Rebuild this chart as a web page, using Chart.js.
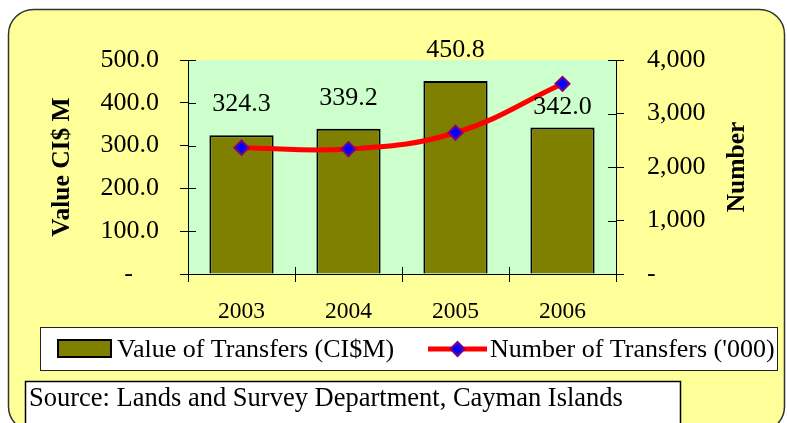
<!DOCTYPE html>
<html><head><meta charset="utf-8">
<script src="https://cdn.jsdelivr.net/npm/chart.js@4/dist/chart.umd.min.js"></script>
<style>html,body{margin:0;padding:0;background:#fff;overflow:hidden}#wrap{width:787px;height:423px;position:relative}</style>
</head><body><div id="wrap"><canvas id="c" width="787" height="423"></canvas></div>
<script>
// ---- data ----
const years = ['2003', '2004', '2005', '2006'];
const transferValues = [324.3, 339.2, 450.8, 342.0];
const transferCounts = [2360, 2335, 2640, 3555];
const valueAxisMax = 500;
const valueAxisStep = 100;
const countAxisMax = 4000;
const countAxisStep = 1000;
const seriesNames = ['Value of Transfers (CI$M)', "Number of Transfers ('000)"];
const axisTitles = ['Value CI$ M', 'Number'];
const sourceNote = 'Source: Lands and Survey Department, Cayman Islands';

// ---- style ----
const FONT = '"Liberation Serif", "Times New Roman", serif';
const YELLOW = '#FFFF99', GREEN = '#CCFFCC', OLIVE = '#808000';
const RED = '#FF0000', BLUE = '#0000FF', PURPLE = '#800080';

function roundRectPath(ctx, x, y, w, h, r) {
  ctx.beginPath();
  ctx.moveTo(x + r, y);
  ctx.lineTo(x + w - r, y);
  ctx.arcTo(x + w, y, x + w, y + r, r);
  ctx.lineTo(x + w, y + h - r);
  ctx.arcTo(x + w, y + h, x + w - r, y + h, r);
  ctx.lineTo(x + r, y + h);
  ctx.arcTo(x, y + h, x, y + h - r, r);
  ctx.lineTo(x, y + r);
  ctx.arcTo(x, y, x + r, y, r);
  ctx.closePath();
}

const framePlugin = {
  id: 'frame',
  beforeDraw(chart) {
    const ctx = chart.ctx, a = chart.chartArea;
    ctx.save();
    ctx.fillStyle = '#fff';
    ctx.fillRect(0, 0, chart.width, chart.height);
    roundRectPath(ctx, 8.5, 9.5, 776, 422, 25);
    ctx.fillStyle = YELLOW;
    ctx.fill();
    ctx.lineWidth = 1.5;
    ctx.strokeStyle = '#333';
    ctx.stroke();
    ctx.fillStyle = GREEN;
    ctx.fillRect(a.left, a.top, a.right - a.left, a.bottom - a.top);
    ctx.restore();
  },
  afterDatasetsDraw(chart, args, opts) {
    const ctx = chart.ctx;
    const meta = chart.getDatasetMeta(1);
    ctx.save();
    ctx.font = '26px ' + FONT;
    ctx.fillStyle = '#000';
    ctx.textAlign = 'center';
    ctx.textBaseline = 'middle';
    meta.data.forEach((bar, i) => {
      const off = (opts.offsets && opts.offsets[i] != null) ? opts.offsets[i] : 31;
      ctx.fillText(chart.data.datasets[1].data[i].toFixed(1), bar.x, bar.y - off);
    });
    ctx.restore();
  },
  afterDraw(chart) {
    const ctx = chart.ctx, a = chart.chartArea;
    const sx = chart.scales.x, sy = chart.scales.y, sy1 = chart.scales.y1;
    ctx.save();
    // inward halves of the tick marks
    ctx.strokeStyle = '#000';
    ctx.lineWidth = 1;
    ctx.beginPath();
    sy.ticks.forEach((t, i) => {
      const p = Math.round(sy.getPixelForTick(i)) + 0.5;
      ctx.moveTo(a.left, p); ctx.lineTo(a.left + 8, p);
    });
    sy1.ticks.forEach((t, i) => {
      const p = Math.round(sy1.getPixelForTick(i)) + 0.5;
      ctx.moveTo(a.right - 8, p); ctx.lineTo(a.right, p);
    });
    const n = sx.ticks.length;
    const step = (sx.getPixelForTick(1) - sx.getPixelForTick(0));
    for (let i = 0; i <= n; i++) {
      const p = Math.round(sx.getPixelForTick(0) - step / 2 + i * step) + 0.5;
      ctx.moveTo(p, a.bottom); ctx.lineTo(p, a.bottom - 7);
    }
    ctx.stroke();

    // right axis title (reads bottom to top)
    ctx.save();
    ctx.translate(737, (a.top + a.bottom) / 2);
    ctx.rotate(-Math.PI / 2);
    ctx.font = 'bold 25.5px ' + FONT;
    ctx.fillStyle = '#000';
    ctx.textAlign = 'center';
    ctx.textBaseline = 'middle';
    ctx.fillText(axisTitles[1], 0, 0);
    ctx.restore();

    // legend box
    ctx.fillStyle = '#fff';
    ctx.fillRect(40.5, 327.5, 737, 43);
    ctx.strokeStyle = '#222';
    ctx.lineWidth = 1;
    ctx.strokeRect(40.5, 327.5, 737, 43);
    const ly = 349;
    const barDs = chart.data.datasets[1], lineDs = chart.data.datasets[0];
    ctx.fillStyle = barDs.backgroundColor;
    ctx.fillRect(58, 340, 53, 17);
    ctx.strokeStyle = '#000';
    ctx.lineWidth = 2;
    ctx.strokeRect(58, 340, 53, 17);
    ctx.font = '26px ' + FONT;
    ctx.fillStyle = '#000';
    ctx.textAlign = 'left';
    ctx.textBaseline = 'middle';
    ctx.fillText(barDs.label, 117, ly + 1);
    ctx.strokeStyle = lineDs.borderColor;
    ctx.lineWidth = 5;
    ctx.beginPath();
    ctx.moveTo(428, ly); ctx.lineTo(487, ly);
    ctx.stroke();
    ctx.beginPath();
    ctx.moveTo(457.5 - 7, ly); ctx.lineTo(457.5, ly - 7); ctx.lineTo(457.5 + 7, ly); ctx.lineTo(457.5, ly + 7);
    ctx.closePath();
    ctx.fillStyle = lineDs.pointBackgroundColor;
    ctx.fill();
    ctx.strokeStyle = lineDs.pointBorderColor;
    ctx.lineWidth = 2;
    ctx.stroke();
    ctx.fillStyle = '#000';
    ctx.fillText(lineDs.label, 490, ly + 1);

    // source box
    ctx.fillStyle = '#fff';
    ctx.fillRect(25.5, 381.5, 655, 60);
    ctx.strokeStyle = '#000';
    ctx.lineWidth = 1.5;
    ctx.strokeRect(25.5, 381.5, 655, 60);
    ctx.fillStyle = '#000';
    ctx.font = '26.5px ' + FONT;
    ctx.textAlign = 'left';
    ctx.textBaseline = 'middle';
    ctx.fillText(sourceNote, 29, 399);
    ctx.restore();
  }
};

const tickFont = { family: FONT, size: 26 };

new Chart(document.getElementById('c'), {
  data: {
    labels: years,
    datasets: [
      {
        type: 'line',
        label: seriesNames[1],
        data: transferCounts,
        yAxisID: 'y1',
        order: 0,
        borderColor: RED,
        borderWidth: 5,
        tension: 0.4,
        pointStyle: 'rectRot',
        pointRadius: 7,
        pointBackgroundColor: BLUE,
        pointBorderColor: PURPLE,
        pointBorderWidth: 2,
        fill: false
      },
      {
        type: 'bar',
        label: seriesNames[0],
        data: transferValues,
        yAxisID: 'y',
        order: 1,
        backgroundColor: OLIVE,
        borderColor: '#000',
        borderWidth: 2,
        barPercentage: 0.6,
        categoryPercentage: 1
      }
    ]
  },
  options: {
    responsive: false,
    animation: false,
    devicePixelRatio: 1,
    layout: { padding: { top: 60, left: 0, right: 0, bottom: 89 } },
    plugins: {
      legend: { display: false },
      tooltip: { enabled: false },
      frame: { offsets: [31, 31, 31, 20] }
    },
    scales: {
      x: {
        type: 'category',
        offset: true,
        grid: { drawOnChartArea: false, drawTicks: true, tickLength: 8, color: '#000', offset: true },
        border: { display: true, color: '#000', width: 1 },
        ticks: { font: { family: FONT, size: 23.5 }, color: '#000', padding: 16, maxRotation: 0 },
        afterFit(s) { s.height = 60; }
      },
      y: {
        position: 'left',
        min: 0, max: valueAxisMax,
        grid: { drawOnChartArea: false, drawTicks: true, tickLength: 8, color: '#000' },
        border: { display: true, color: '#000', width: 1 },
        ticks: {
          stepSize: valueAxisStep, font: tickFont, color: '#000', padding: 21,
          callback: v => v === 0 ? '-    ' : v.toFixed(1)
        },
        title: {
          display: true, text: axisTitles[0], color: '#000',
          font: { family: FONT, size: 25.5, weight: 'bold' },
          padding: { top: 47, bottom: 0 }
        },
        afterFit(s) { s.width = 188; }
      },
      y1: {
        position: 'right',
        min: 0, max: countAxisMax,
        grid: { drawOnChartArea: false, drawTicks: true, tickLength: 8, color: '#000' },
        border: { display: true, color: '#000', width: 1 },
        ticks: {
          stepSize: countAxisStep, font: tickFont, color: '#000', padding: 23,
          callback: v => v === 0 ? '-' : v.toLocaleString('en-US')
        },
        afterFit(s) { s.width = 171; }
      }
    }
  },
  plugins: [framePlugin]
});
</script>
</body></html>
